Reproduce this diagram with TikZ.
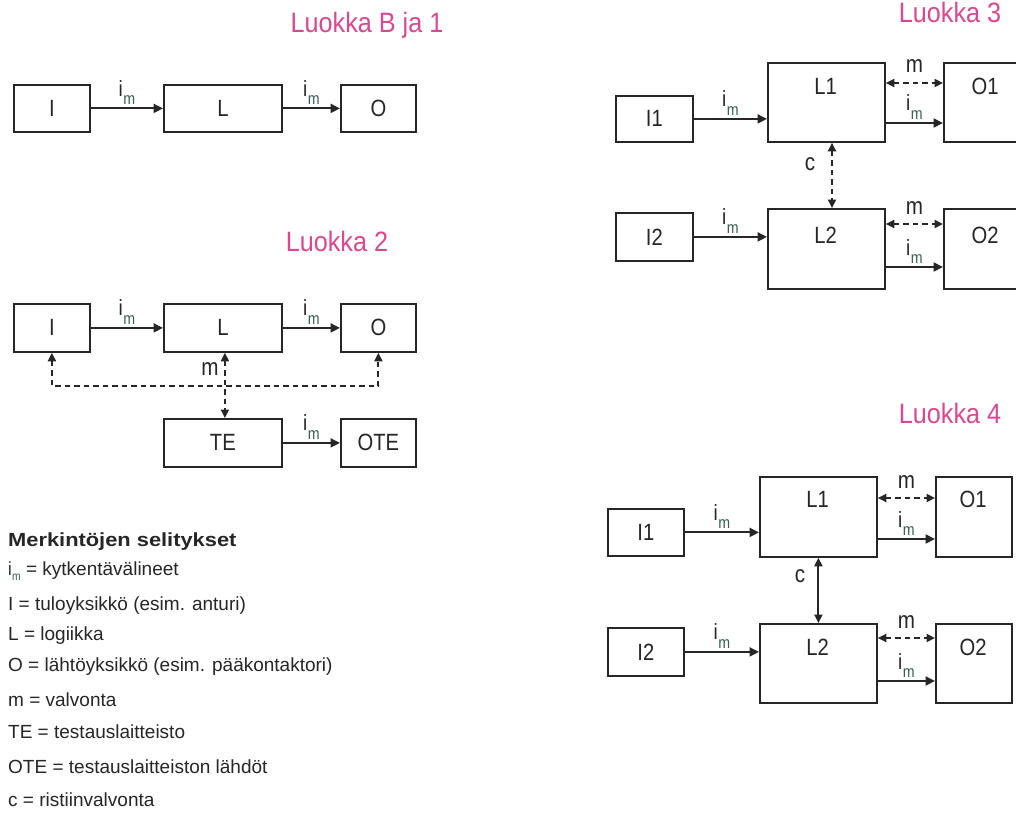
\documentclass[tikz,border=0pt]{standalone}
\usepackage{fontspec}
\usepackage{graphicx}
\setmainfont{Liberation Sans}
% narrow-set faces: the printed lettering is taller than it is wide
\newfontfamily\nfont[FakeStretch=0.86]{Liberation Sans}
\newfontfamily\tfont[FakeStretch=0.9]{Liberation Sans}
\newfontfamily\hfont[FakeStretch=1.15]{Liberation Sans}
\usetikzlibrary{arrows.meta}

\definecolor{ink}{RGB}{38,38,38}
\definecolor{titlepink}{RGB}{222,70,145}
\definecolor{subm}{RGB}{55,95,85}

% "i" with a lowered subscript "m": #1 size of i, #2 size of m, #3 drop of m
\newcommand{\imlab}[3]{{\nfont\fontsize{#1}{#1}\selectfont i}\kern0.4pt\raisebox{-#3}{\nfont\fontsize{#2}{#2}\selectfont\color{subm}m}}
\newcommand{\im}{\imlab{22}{16.5}{8.5pt}}

\tikzset{
  blk/.style={draw=ink, line width=1.8pt, inner sep=0pt, anchor=north west,
              font=\nfont\fontsize{23.5}{26}\selectfont, text=ink},
  boxtext/.style={font=\nfont\fontsize{23.5}{26}\selectfont, text=ink, inner sep=0pt},
  flow/.style={draw=ink, line width=2pt, -{Triangle[length=9.5pt,width=9pt]}},
  both/.style={draw=ink, line width=2pt,
               {Triangle[length=8.5pt,width=8pt]}-{Triangle[length=8.5pt,width=8pt]}},
  mon/.style={both, dash pattern=on 5.5pt off 4pt},
  lab/.style={font=\nfont\fontsize{24}{26}\selectfont, text=ink, inner sep=1pt},
  imnode/.style={text=ink, inner sep=0pt, above=2.5pt},
  mnode/.style={lab, above=8pt},
  title/.style={font=\tfont\fontsize{28}{30}\selectfont, text=titlepink, anchor=base, inner sep=0pt},
  legend/.style={font=\fontsize{19}{22}\selectfont, text=ink, anchor=base west, inner sep=0pt},
}

\begin{document}
\begin{tikzpicture}[x=1pt,y=-1pt]
\useasboundingbox (0,0) rectangle (1016,813);
\fill[white] (0,0) rectangle (1016,813);
\clip (0,0) rectangle (1016,813);

% ---------- Luokka B ja 1 ----------
\node[title] (tB) at (367,33) {Luokka B ja 1};
\node[blk, minimum width=76, minimum height=47] (bI) at (13,84) {I};
\node[blk, minimum width=118, minimum height=47] (bL) at (163,84) {L};
\node[blk, minimum width=75, minimum height=47] (bO) at (340,84) {O};
\draw[flow] (bI) -- node[imnode] {\im} (bL);
\draw[flow] (bL) -- node[imnode] {\im} (bO);

% ---------- Luokka 2 ----------
\node[title] (t2) at (337,251) {Luokka 2};
\node[blk, minimum width=76, minimum height=48] (cI) at (13,303) {I};
\node[blk, minimum width=118, minimum height=48] (cL) at (163,303) {L};
\node[blk, minimum width=75, minimum height=48] (cO) at (340,303) {O};
\node[blk, minimum width=118, minimum height=48] (cTE) at (163,418) {TE};
\node[blk, minimum width=75, minimum height=48] (cOTE) at (340,418) {OTE};
\draw[flow] (cI) -- node[imnode] {\im} (cL);
\draw[flow] (cL) -- node[imnode] {\im} (cO);
\draw[flow] (cTE) -- node[imnode] {\im} (cOTE);
\coordinate (cbus) at (224,386);
\draw[mon] (cI.south) |- (cbus) -| (cO.south);
\draw[mon] ([xshift=2pt]cL.south) -- ([xshift=2pt]cTE.north);
\node[lab] (cm) at (210,369) {m};

% ---------- Luokka 3 ----------
\node[title] (t3) at (950,23) {Luokka 3};
\node[blk, minimum width=77, minimum height=46] (dI1) at (615,95) {I1};
\node[blk, minimum width=117, minimum height=79] (dL1) at (767,62) {};
\node[blk, minimum width=120, minimum height=79] (dO1) at (943,62) {};
\node[blk, minimum width=77, minimum height=48] (dI2) at (615,212) {I2};
\node[blk, minimum width=117, minimum height=80] (dL2) at (767,208) {};
\node[blk, minimum width=120, minimum height=80] (dO2) at (943,208) {};
\node[boxtext] (dL1t) at (825.5,86.5) {L1};
\node[boxtext] (dO1t) at (985,86.5) {O1};
\node[boxtext] (dL2t) at (825.5,235) {L2};
\node[boxtext] (dO2t) at (985,235) {O2};
\draw[flow] (dI1.east) -- node[imnode] {\im} (dI1.east -| dL1.west);
\draw[flow] (dI2.east) -- node[imnode] {\im} (dI2.east -| dL2.west);
\draw[mon] (dL1.east |- 0,83) -- node[mnode] {m} (dO1.west |- 0,83);
\draw[flow] (dL1.east |- 0,123) -- node[imnode] {\im} (dO1.west |- 0,123);
\draw[mon] (dL2.east |- 0,224) -- node[mnode] {m} (dO2.west |- 0,224);
\draw[flow] (dL2.east |- 0,267) -- node[imnode] {\im} (dO2.west |- 0,267);
\draw[mon] (832,0 |- dL1.south) -- (832,0 |- dL2.north);
\node[lab] (dc) at (810,164) {c};

% ---------- Luokka 4 ----------
\node[title] (t4) at (950,423) {Luokka 4};
\node[blk, minimum width=76, minimum height=47] (eI1) at (607,508) {I1};
\node[blk, minimum width=117, minimum height=80] (eL1) at (759,476) {};
\node[blk, minimum width=76, minimum height=80] (eO1) at (935,476) {};
\node[blk, minimum width=76, minimum height=48] (eI2) at (607,627) {I2};
\node[blk, minimum width=117, minimum height=79] (eL2) at (759,623) {};
\node[blk, minimum width=76, minimum height=79] (eO2) at (935,623) {};
\node[boxtext] (eL1t) at (817.5,499) {L1};
\node[boxtext] (eO1t) at (973,499) {O1};
\node[boxtext] (eL2t) at (817.5,647) {L2};
\node[boxtext] (eO2t) at (973,647) {O2};
\draw[flow] (eI1.east) -- node[imnode] {\im} (eI1.east -| eL1.west);
\draw[flow] (eI2.east) -- node[imnode] {\im} (eI2.east -| eL2.west);
\draw[mon] (eL1.east |- 0,498) -- node[mnode] {m} (eO1.west |- 0,498);
\draw[flow] (eL1.east |- 0,539) -- node[imnode] {\im} (eO1.west |- 0,539);
\draw[mon] (eL2.east |- 0,638) -- node[mnode] {m} (eO2.west |- 0,638);
\draw[flow] (eL2.east |- 0,681) -- node[imnode] {\im} (eO2.west |- 0,681);
\draw[both] (eL1.south) -- (eL2.north);
\node[lab] (ec) at (800,576) {c};

% ---------- legend ----------
\node[legend, font=\hfont\bfseries\fontsize{19}{22}\selectfont] (g0) at (8,546) {Merkintöjen selitykset};
\node[legend] (g1) at (8,575) {\imlab{19}{12}{5pt} = kytkentävälineet};
\node[legend] (g2) at (8,610) {I = tuloyksikkö (esim. anturi)};
\node[legend] (g3) at (8,640) {L = logiikka};
\node[legend] (g4) at (8,671) {O = lähtöyksikkö (esim. pääkontaktori)};
\node[legend] (g5) at (8,706) {m = valvonta};
\node[legend] (g6) at (8,738) {TE = testauslaitteisto};
\node[legend] (g7) at (8,773) {OTE = testauslaitteiston lähdöt};
\node[legend] (g8) at (8,806) {c = ristiinvalvonta};
\end{tikzpicture}
\end{document}
